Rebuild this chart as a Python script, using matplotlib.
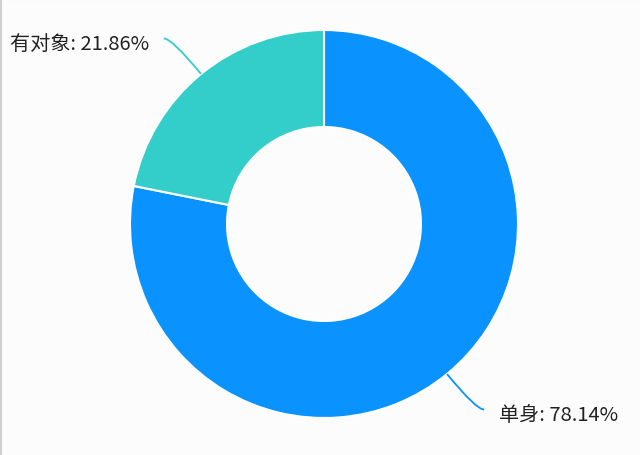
import numpy as np
import matplotlib
matplotlib.use("Agg")
import matplotlib.pyplot as plt
from matplotlib.path import Path
from matplotlib.patches import PathPatch

plt.rcParams['font.family'] = ['Noto Sans CJK SC', 'DejaVu Sans']

# data
labels = ["单身", "有对象"]
shares = [78.14, 21.86]
colors = ["#0A93FE", "#33CDCA"]

W, H = 640, 456
cx, cy = 324, H - 225   # donut centre (y measured from bottom)
r_out = 194
r_in = 97

fig = plt.figure(figsize=(6.4, 4.56), dpi=100)
fig.patch.set_facecolor("#fcfcfd")
ax = fig.add_axes([0, 0, 1, 1])

wedges, _ = ax.pie(shares, colors=colors, startangle=90, counterclock=False,
                   center=(cx, cy), radius=r_out, frame=True,
                   wedgeprops=dict(width=r_out - r_in, edgecolor="white", linewidth=1.5))
ax.set_xlim(0, W)
ax.set_ylim(0, H)
ax.set_aspect("equal")
ax.axis("off")

# leader lines + labels
for w, lab, val, col in zip(wedges, labels, shares, colors):
    ang = np.deg2rad((w.theta1 + w.theta2) / 2)
    ux, uy = np.cos(ang), np.sin(ang)
    p0 = (cx + r_out * ux, cy + r_out * uy)
    p1 = (cx + (r_out + 46) * ux, cy + (r_out + 46) * uy)
    side = 1 if ux > 0 else -1
    p2 = (p1[0] + side * 8, p1[1])
    path = Path([p0, p1, p2], [Path.MOVETO, Path.CURVE3, Path.CURVE3])
    ax.add_patch(PathPatch(path, fill=False, edgecolor=col, lw=1.3))
    ax.text(p2[0] + side * 15, p2[1] - 5, f"{lab}: {val:.2f}%",
            ha="left" if side > 0 else "right", va="center",
            fontsize=14.5, color="#222222")

# faint screenshot border
fig.add_artist(plt.Line2D([0, 1], [0.999, 0.999], transform=fig.transFigure, color="#cfcfcf", lw=1.5))
fig.add_artist(plt.Line2D([0.001, 0.001], [0, 1], transform=fig.transFigure, color="#cfcfcf", lw=1.5))

fig.savefig("out.png", dpi=100, facecolor=fig.get_facecolor())
